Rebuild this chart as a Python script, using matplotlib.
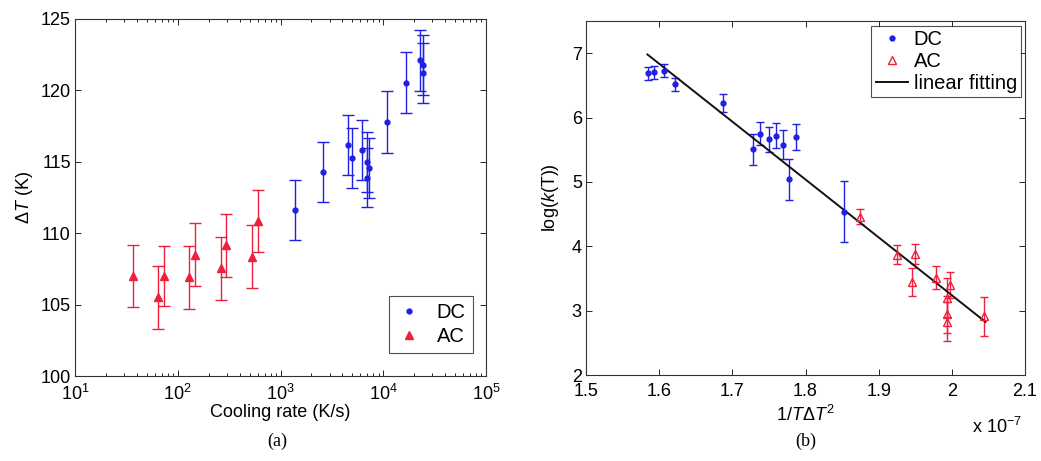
import numpy as np
import matplotlib.pyplot as plt

plt.rcParams['font.family'] = ['Liberation Sans', 'DejaVu Sans']
plt.rcParams['mathtext.fontset'] = 'custom'
plt.rcParams['mathtext.rm'] = 'Liberation Sans'
plt.rcParams['mathtext.it'] = 'Liberation Sans:italic'

# (a) undercooling vs cooling rate
dc_rate = [1384, 2575, 4500, 4970, 6170, 7000, 7300, 6900, 10870, 16500, 22940, 24560, 24560]
dc_dT = [111.6, 114.3, 116.2, 115.3, 115.8, 115.0, 114.55, 113.9, 117.8, 120.55, 122.1, 121.8, 121.25]
dc_err = [2.1, 2.1, 2.1, 2.1, 2.1, 2.1, 2.1, 2.1, 2.15, 2.15, 2.15, 2.1, 2.1]

ac_rate = [37, 64.7, 73.5, 129.7, 148, 262, 297, 525, 604]
ac_dT = [107.0, 105.5, 107.0, 106.9, 108.5, 107.55, 109.15, 108.35, 110.85]
ac_err = [2.2, 2.2, 2.1, 2.2, 2.2, 2.2, 2.2, 2.2, 2.2]

# (b) log(k(T)) vs 1/(T dT^2), x in units of 1e-7
dc_x = [1.5843, 1.5925, 1.606, 1.6216, 1.6867, 1.728, 1.7377, 1.75, 1.7596, 1.7687, 1.7769, 1.7873, 1.852]
dc_logk = [6.69, 6.70, 6.73, 6.52, 6.22, 5.51, 5.75, 5.66, 5.72, 5.58, 5.04, 5.70, 4.54]
dc_kerr = [0.1, 0.1, 0.1, 0.1, 0.14, 0.24, 0.18, 0.2, 0.2, 0.22, 0.32, 0.2, 0.47]

ac_x = [1.8743, 1.9244, 1.945, 1.95, 1.978, 1.9928, 1.9928, 1.9935, 1.997, 2.044]
ac_logk = [4.46, 3.87, 3.44, 3.88, 3.51, 2.94, 2.83, 3.20, 3.40, 2.91]
ac_kerr = [0.12, 0.15, 0.22, 0.15, 0.18, 0.28, 0.3, 0.3, 0.2, 0.3]

fit_x = [1.584, 2.046]
fit_y = [6.98, 2.825]

blue = '#1f1fe6'
red = '#f0203c'

fig = plt.figure(figsize=(10.41, 4.61), dpi=100)
W, H = 1041, 461
ax1 = fig.add_axes([75 / W, 1 - 376 / H, 411 / W, 357 / H])
ax2 = fig.add_axes([586 / W, 1 - 375 / H, 439 / W, 354 / H])

for ax in (ax1, ax2):
    ax.tick_params(direction='in', top=True, right=True, which='both', labelsize=13,
                   width=0.6, pad=3)
    ax.tick_params(axis='x', pad=6)
    for s in ax.spines.values():
        s.set_linewidth(0.8)
        s.set_color('#333333')

# panel (a)
e1 = ax1.errorbar(dc_rate, dc_dT, yerr=dc_err, fmt='o', ms=3.5, color=blue, ecolor=blue,
                  elinewidth=1, capsize=4, capthick=1)
e2 = ax1.errorbar(ac_rate, ac_dT, yerr=ac_err, fmt='^', ms=5.5, color=red, ecolor=red,
                  elinewidth=1, capsize=4, capthick=1)
ax1.set_xscale('log')
ax1.set_xlim(10, 1e5)
ax1.set_ylim(100, 125)
ax1.set_yticks(np.arange(100, 126, 5))
ax1.tick_params(which='major', length=4)
ax1.tick_params(which='minor', length=2)
ax1.set_xlabel('Cooling rate (K/s)', fontsize=13, labelpad=0)
ax1.set_ylabel(r'$\Delta\mathit{T}$ (K)', fontsize=13, labelpad=4)
leg1 = ax1.legend([e1[0], e2[0]], ['DC', 'AC'], loc='lower right',
                  bbox_to_anchor=(0.968, 0.064), borderaxespad=0, fontsize=14.5,
                  fancybox=False, edgecolor='#222222', handlelength=1.2, borderpad=0.35,
                  labelspacing=0.25)
leg1.get_frame().set_linewidth(0.8)

# panel (b)
e3 = ax2.errorbar(dc_x, dc_logk, yerr=dc_kerr, fmt='o', ms=3.5, color=blue, ecolor=blue,
                  elinewidth=1, capsize=3, capthick=1)
e4 = ax2.errorbar(ac_x, ac_logk, yerr=ac_kerr, fmt='^', ms=6, mfc='none', mec=red, color=red,
                  ecolor=red, elinewidth=1, capsize=3, capthick=1)
fit_line, = ax2.plot(fit_x, fit_y, color='#111111', lw=1.4)
ax2.set_xlim(1.5, 2.1)
ax2.set_ylim(2, 7.5)
ax2.set_xticks(np.arange(1.5, 2.11, 0.1))
ax2.set_xticklabels(['1.5', '1.6', '1.7', '1.8', '1.9', '2', '2.1'])
ax2.set_yticks([2, 3, 4, 5, 6, 7])
ax2.tick_params(which='major', length=4)
ax2.set_xlabel(r'1/$\mathit{T}\Delta\mathit{T}^2$', fontsize=13, labelpad=3)
ax2.set_ylabel(r'log($\mathit{k}$(T))', fontsize=13, labelpad=8)
leg2 = ax2.legend([e3[0], e4[0], fit_line], ['DC', 'AC', 'linear fitting'], loc='upper right',
                  bbox_to_anchor=(0.991, 0.986), borderaxespad=0, fontsize=14.5,
                  fancybox=False, edgecolor='#222222', handlelength=1.6, borderpad=0.2,
                  labelspacing=0.15, handletextpad=0.3)
leg2.get_frame().set_linewidth(0.8)
fig.text(1022 / W, 1 - 427 / H, r'x 10$^{-7}$', fontsize=13, ha='right', va='center')

fig.text(277 / W, 1 - 441 / H, '(a)', fontsize=13, family='Liberation Serif', ha='center', va='center')
fig.text(806 / W, 1 - 441 / H, '(b)', fontsize=13, family='Liberation Serif', ha='center', va='center')

fig.savefig('out.png', dpi=100)
